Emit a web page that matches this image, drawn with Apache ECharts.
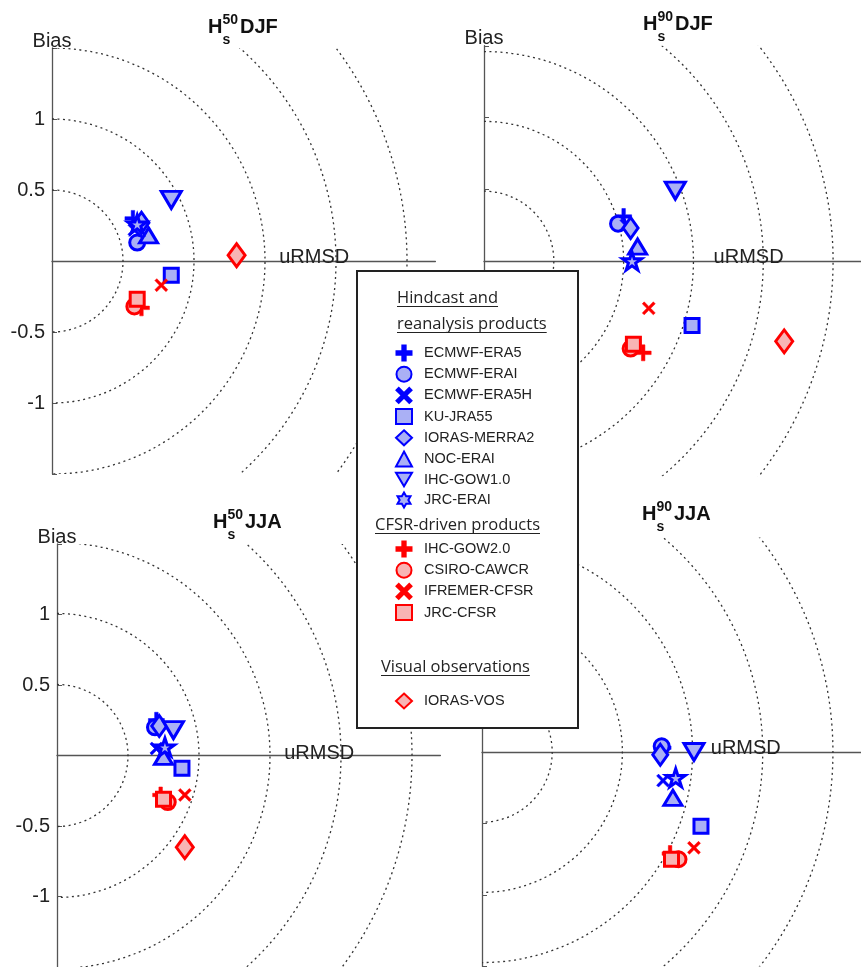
<!DOCTYPE html>
<html><head><meta charset="utf-8">
<script src="https://cdn.jsdelivr.net/npm/echarts/dist/echarts.min.js"></script>
<style>html,body{margin:0;padding:0;background:#fff}#c{width:861px;height:967px}</style>
</head><body><div id="c"></div>
<script>
// ---------------- DATA ----------------
const products = ['ECMWF-ERA5','ECMWF-ERAI','ECMWF-ERA5H','KU-JRA55','IORAS-MERRA2','NOC-ERAI','IHC-GOW1.0','JRC-ERAI',
                  'IHC-GOW2.0','CSIRO-CAWCR','IFREMER-CFSR','JRC-CFSR','IORAS-VOS'];
const hindcastProducts = products.slice(0, 8);
const cfsrProducts = products.slice(8, 12);
const visualProducts = products.slice(12);
// [uRMSD, Bias] per product, in the order of `products`
const hs50DJF = [[0.57,0.30],[0.60,0.13],[0.58,0.22],[0.84,-0.10],[0.63,0.27],[0.68,0.18],[0.84,0.43],[0.60,0.26],
                 [0.63,-0.33],[0.58,-0.32],[0.77,-0.17],[0.60,-0.27],[1.30,0.04]];
const hs90DJF = [[1.00,0.31],[0.96,0.26],[1.02,0.25],[1.49,-0.45],[1.05,0.23],[1.10,0.10],[1.37,0.49],[1.06,0.00],
                 [1.14,-0.64],[1.05,-0.61],[1.18,-0.33],[1.07,-0.58],[2.15,-0.56]];
const hs50JJA = [[0.70,0.25],[0.69,0.20],[0.70,0.05],[0.88,-0.09],[0.72,0.21],[0.75,-0.01],[0.82,0.18],[0.76,0.06],
                 [0.73,-0.28],[0.78,-0.33],[0.90,-0.28],[0.75,-0.31],[0.90,-0.65]];
const hs90JJA = [[1.29,0.03],[1.28,0.04],[1.29,-0.20],[1.56,-0.52],[1.27,-0.02],[1.36,-0.32],[1.51,0.00],[1.38,-0.18],
                 [1.34,-0.71],[1.40,-0.75],[1.51,-0.67],[1.35,-0.75],null];
const yTickLabels = ['1','0.5','-0.5','-1'];
const arcRadii = [0.5, 1, 1.5, 2, 2.5];
const panelTitles = [['50','DJF'],['90','DJF'],['50','JJA'],['90','JJA']];

// ---------------- STYLE / LAYOUT ----------------
const panelData = [hs50DJF, hs90DJF, hs50JJA, hs90JJA];
const panels = [
  {left:52,  zeroY:261, scale:142,   labels:true,  tx:208, tb:35},
  {left:484, zeroY:261, scale:143.5, labels:false, tx:643, tb:32},
  {left:57,  zeroY:757, scale:142,   labels:true,  tx:213, tb:530},
  {left:482, zeroY:752, scale:143,   labels:false, tx:642, tb:522}
];
const XMAX = 2.7, YMAX = 1.5;
const FONT = '"Liberation Sans", Arial, sans-serif';
const HFONT = '"Open Sans", sans-serif';
const BLUE = '#0000ff', BLUEFILL = '#aab0f5', RED = '#ff0000', REDFILL = '#f8b4b4';

const P_PLUS = 'path://M-1.1,-5H1.1V-1.1H5V1.1H1.1V5H-1.1V1.1H-5V-1.1H-1.1Z';
const P_CROSS = 'path://M-5,-3.5L-3.5,-5L0,-1.5L3.5,-5L5,-3.5L1.5,0L5,3.5L3.5,5L0,1.5L-3.5,5L-5,3.5L-1.5,0Z';
const P_TRIDOWN = 'path://M-10,-8L10,-8L0,9Z';
const P_STAR = 'path://M0,-5L1.123,-1.545L4.755,-1.545L1.816,0.59L2.939,4.045L0,1.91L-2.939,4.045L-1.816,0.59L-4.755,-1.545L-1.123,-1.545Z';
const P_HEX = 'path://M0,-5L1.443,-2.5L4.33,-2.5L2.887,0L4.33,2.5L1.443,2.5L0,5L-1.443,2.5L-4.33,2.5L-2.887,0L-4.33,-2.5L-1.443,-2.5Z';
const symbolDefs = {
  plus:    {symbol:P_PLUS, size:16, solid:true},
  circle:  {symbol:'circle', size:15},
  cross:   {symbol:P_CROSS, size:13, solid:true},
  square:  {symbol:'rect', size:14},
  diamond: {symbol:'diamond', size:[15,21]},
  triUp:   {symbol:'triangle', size:[18,15]},
  triDown: {symbol:P_TRIDOWN, size:[20,17]},
  star:    {symbol:P_STAR, size:19, keep:true},
  bigDiamond: {symbol:'diamond', size:[17,23]}
};
const productSymbol = ['plus','circle','cross','square','diamond','triUp','triDown','star',
                       'plus','circle','cross','square','bigDiamond'];
const legendIcons = {'JRC-ERAI':P_HEX};

const chart = echarts.init(document.getElementById('c'), null, {renderer:'canvas'});

const grids = [], xAxes = [], yAxes = [], series = [], graphics = [];
panels.forEach((p, gi) => {
  grids.push({left:p.left, top:p.zeroY - YMAX*p.scale, width:XMAX*p.scale, height:2*YMAX*p.scale, containLabel:false});
  xAxes.push({type:'value', gridIndex:gi, min:0, max:XMAX,
    axisLine:{show:true, onZero:true, lineStyle:{color:'#555', width:1.3}},
    axisTick:{show:false}, axisLabel:{show:false}, splitLine:{show:false}});
  yAxes.push({type:'value', gridIndex:gi, min:-YMAX, max:YMAX, interval:0.5,
    name:'Bias', nameLocation:'end', nameGap:-3,
    nameTextStyle:{fontFamily:FONT, fontSize:20, color:'#222'},
    axisLine:{show:true, lineStyle:{color:'#555', width:1.3}},
    axisTick:{show:true, inside:true, length:5, lineStyle:{color:'#555'}},
    axisLabel:{show:p.labels, margin:7, fontFamily:FONT, fontSize:20, color:'#222',
      formatter:v => yTickLabels.includes(String(v)) ? String(v) : ''},
    splitLine:{show:false}});
  // reference arcs of constant total RMSD
  series.push({type:'custom', xAxisIndex:gi, yAxisIndex:gi, clip:true, silent:true, z:1,
    data: arcRadii.map(r => [r, 0]),
    renderItem:(params, api) => {
      const c = api.coord([0, 0]);
      const r = api.size([api.value(0), 0])[0];
      return {type:'arc', silent:true,
        shape:{cx:c[0], cy:c[1], r:r, startAngle:-Math.PI/2, endAngle:Math.PI/2, clockwise:true},
        style:{fill:'none', stroke:'#333', lineWidth:1.3, lineDash:[2,3.5]}};
    }});
  products.forEach((name, i) => {
    const def = symbolDefs[productSymbol[i]];
    const isBlue = i < 8;
    const col = isBlue ? BLUE : RED, fill = isBlue ? BLUEFILL : REDFILL;
    const pt = panelData[gi][i];
    series.push({type:'scatter', name:name, xAxisIndex:gi, yAxisIndex:gi, z:3,
      data: pt ? [pt] : [],
      symbol:def.symbol, symbolSize:def.size, symbolKeepAspect:!!def.keep,
      itemStyle:{color: def.solid ? col : fill, borderColor:col, borderWidth: def.solid ? 0.5 : 3, opacity:1},
      emphasis:{disabled:true}});
  });
  // uRMSD label
  graphics.push({type:'text', z:10, style:{text:'uRMSD', x:p.left + 1.6*p.scale, y:p.zeroY - 4,
    font:'20px ' + FONT, fill:'#222', align:'left', verticalAlign:'middle', textAlign:'left', textVerticalAlign:'middle'}});
  // panel title H_s^xx season
  const [pct, season] = panelTitles[gi];
  const B = p.tb, X = p.tx;
  const tstyle = (t, x, y, size) => ({type:'text', z:10, style:{text:t, x:x, y:y, font:'bold ' + size + 'px ' + FONT,
    fill:'#111', align:'left', verticalAlign:'middle', textAlign:'left', textVerticalAlign:'middle'}});
  graphics.push(tstyle('H', X, B - 7.2, 20));
  graphics.push(tstyle(pct, X + 14.5, B - 15, 14));
  graphics.push(tstyle('s', X + 14.5, B + 5, 14));
  graphics.push(tstyle(season, X + 32, B - 7.2, 20));
});

// legend box + headers
graphics.push({type:'rect', z:100, shape:{x:357, y:271, width:221, height:457},
  style:{fill:'#fff', stroke:'#222', lineWidth:2}});
const mctx = document.createElement('canvas').getContext('2d');
const HSIZE = 16.5;
mctx.font = HSIZE + 'px ' + HFONT;
const headers = [
  {t:'Hindcast and', x:397, base:304},
  {t:'reanalysis products', x:397, base:330},
  {t:'CFSR-driven products', x:375, base:531},
  {t:'Visual observations', x:381, base:673}
];
headers.forEach(h => {
  const w = mctx.measureText(h.t).width;
  graphics.push({type:'text', z:101, style:{text:h.t, x:h.x, y:h.base - 5.6, font:HSIZE + 'px ' + HFONT, fill:'#222',
    align:'left', verticalAlign:'middle', textAlign:'left', textVerticalAlign:'middle'}});
  graphics.push({type:'line', z:101, shape:{x1:h.x, y1:h.base + 2.5, x2:h.x + w, y2:h.base + 2.5},
    style:{stroke:'#222', lineWidth:1.2}});
});

const legendBase = {orient:'vertical', left:395, itemWidth:16, itemHeight:15, itemGap:4.2, padding:0,
  selectedMode:false, z:120, textStyle:{fontFamily:FONT, fontSize:14.5, color:'#222', lineHeight:15, padding:[0,0,0,7]}};
const legendItems = names => names.map(n => legendIcons[n] ? {name:n, icon:legendIcons[n]} : {name:n});

chart.setOption({
  animation:false,
  backgroundColor:'#fff',
  grid:grids, xAxis:xAxes, yAxis:yAxes, series:series,
  legend:[
    Object.assign({}, legendBase, {top:344.5, data:legendItems(hindcastProducts)}),
    Object.assign({}, legendBase, {top:540.5, data:legendItems(cfsrProducts)}),
    Object.assign({}, legendBase, {top:692.5, data:legendItems(visualProducts)})
  ],
  graphic:graphics
});
</script></body></html>
